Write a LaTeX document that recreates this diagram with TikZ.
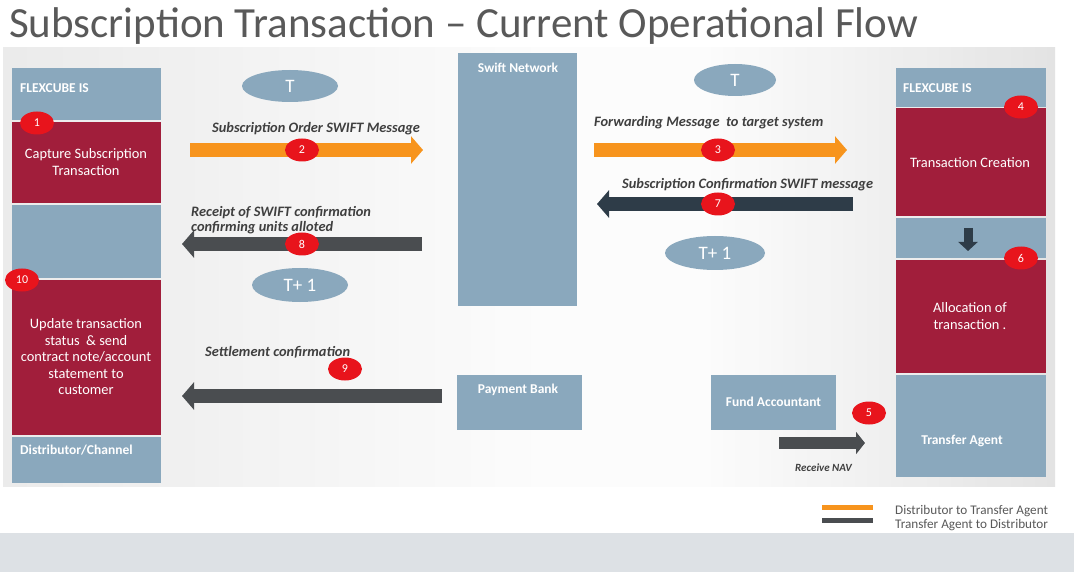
\documentclass[tikz,border=0pt]{standalone}
\usepackage{fontspec}
\setmainfont{Carlito}
\usetikzlibrary{arrows.meta,shapes.geometric}
\definecolor{boxblue}{HTML}{8AA8BD}
\definecolor{boxred}{HTML}{A11E3B}
\definecolor{badgered}{HTML}{E8141C}
\definecolor{arrorange}{HTML}{F7941D}
\definecolor{arrgrey}{HTML}{4A4D50}
\definecolor{arrslate}{HTML}{2E3C48}
\definecolor{labgrey}{HTML}{3F3F3F}
\definecolor{titlegrey}{HTML}{595959}
\definecolor{stripgrey}{HTML}{DDE1E5}
\tikzset{
  box/.style={draw=none, inner sep=0pt, outer sep=0pt, anchor=north west},
  bluebox/.style={box, fill=boxblue},
  redbox/.style={box, fill=boxred},
  boxlbl/.style={text=white, font=\fontsize{13.5}{15}\selectfont\bfseries, inner sep=0pt},
  boxtxt/.style={text=white, font=\fontsize{14.4}{16.5}\selectfont, align=center, inner sep=0pt},
  badge/.style={ellipse, fill=badgered, text=white, minimum width=34pt, minimum height=23pt, inner sep=0pt, font=\fontsize{12}{12}\selectfont},
  tbubble/.style={ellipse, fill=boxblue, text=white, inner sep=0pt, font=\fontsize{19}{20}\selectfont},
  msg/.style={text=labgrey, font=\fontsize{14.4}{15.5}\selectfont\bfseries\itshape, inner sep=0pt, align=left},
  bigarrow/.style={line width=14pt, -{Triangle[length=12pt,width=27pt]}},
  legtxt/.style={anchor=west, inner sep=0pt, text=titlegrey, font=\fontsize{13.2}{14}\selectfont},
}
\begin{document}
\begin{tikzpicture}[x=1pt,y=-1pt]
\useasboundingbox (0,0) rectangle (1074,572);
\fill[white] (0,0) rectangle (1074,572);
% background panel (horizontal gradient built from strips)
\begin{scope}
\clip (3,47) rectangle (1055,487);
\foreach \i in {0,...,87}{
  \pgfmathsetmacro\xx{3+12*\i+6}
  \pgfmathsetmacro\pp{\xx<560 ? 8-7*(\xx-3)/557 : (\xx<700 ? 1 : 1+10*(\xx-700)/355)}
  \fill[black!\pp] ({3+12*\i},47) rectangle ({3+12*\i+12.6},487);
}
\end{scope}
\fill[stripgrey] (0,533) rectangle (1074,572);
% title
\node[anchor=base west, inner sep=0pt, text=titlegrey, font=\fontsize{43}{46}\selectfont] (title) at (9,38) {Subscription Transaction – Current Operational Flow};

% left column
\node[bluebox, minimum width=149pt, minimum height=52pt] (lflex) at (12,68) {};
\node[redbox, minimum width=149pt, minimum height=81pt] (lcap) at (12,122) {};
\node[bluebox, minimum width=149pt, minimum height=73pt] (lmid) at (12,205) {};
\node[redbox, minimum width=149pt, minimum height=155pt] (lupd) at (12,280) {};
\node[bluebox, minimum width=149pt, minimum height=46pt] (ldist) at (12,437) {};
\node[boxlbl, anchor=west] at (20,88) {FLEXCUBE IS};
\node[boxtxt] at (86,162) {Capture Subscription\\Transaction};
\node[boxtxt] at (86,357) {Update transaction\\status\ \ \& send\\contract note/account\\statement to\\customer};
\node[boxlbl, anchor=west] at (20,450) {Distributor/Channel};
\node[badge] (b1) at (37,123) {1};
\node[badge] (b10) at (22,280) {10};

% middle column
\node[bluebox, minimum width=119pt, minimum height=253pt] (swift) at (458,53) {};
\node[boxlbl] at (518,68) {Swift Network};
\node[bluebox, minimum width=125pt, minimum height=55pt] (pay) at (457,375) {};
\node[boxlbl] at (518,390) {Payment Bank};
\node[bluebox, minimum width=125pt, minimum height=55pt] (fund) at (711,375) {};
\node[boxlbl] at (773.5,402) {Fund Accountant};

% right column
\node[bluebox, minimum width=150pt, minimum height=39pt] (rflex) at (896,68) {};
\node[redbox, minimum width=150pt, minimum height=108pt] (rcre) at (896,108) {};
\node[bluebox, minimum width=150pt, minimum height=40pt] (rmid) at (896,218) {};
\node[redbox, minimum width=150pt, minimum height=113pt] (ralloc) at (896,260) {};
\node[bluebox, minimum width=150pt, minimum height=102pt] (rta) at (896,375) {};
\node[boxlbl, anchor=west] at (903,88) {FLEXCUBE IS};
\node[boxtxt] at (970,163) {Transaction Creation};
\node[boxtxt] at (970,316) {Allocation of\\transaction .};
\node[boxlbl] at (962,441) {Transfer Agent};
\coordinate (dA) at (968,228);
\coordinate (dB) at (968,251);
\draw[arrslate, line width=9pt, -{Triangle[length=9pt,width=19pt]}] (dA) -- (dB);

% time bubbles
\node[tbubble, minimum width=96pt, minimum height=32pt] (t1) at (290,86) {T};
\node[tbubble, minimum width=82pt, minimum height=32pt] (t2) at (735,80) {T};
\node[tbubble, minimum width=96pt, minimum height=34pt] (t3) at (300,285) {T+ 1};
\node[tbubble, minimum width=100pt, minimum height=34pt] (t4) at (715,253) {T+ 1};

% arrows
\coordinate (a2s) at (190,150); \coordinate (a2e) at (423,150);
\draw[bigarrow, arrorange] (a2s) -- (a2e);
\coordinate (a3s) at (594,150); \coordinate (a3e) at (847,150);
\draw[bigarrow, arrorange] (a3s) -- (a3e);
\coordinate (a7s) at (853,204); \coordinate (a7e) at (597,204);
\draw[bigarrow, arrslate] (a7s) -- (a7e);
\coordinate (a8s) at (422,244); \coordinate (a8e) at (182,244);
\draw[bigarrow, arrgrey] (a8s) -- (a8e);
\coordinate (a9s) at (442,396); \coordinate (a9e) at (182,396);
\draw[bigarrow, arrgrey] (a9s) -- (a9e);
\coordinate (a5s) at (779,443); \coordinate (a5e) at (865,443);
\draw[arrgrey, line width=12pt, -{Triangle[length=9pt,width=22pt]}] (a5s) -- (a5e);

% messages
\node[msg, anchor=west] at (212,129) {Subscription Order SWIFT Message};
\node[msg, anchor=west] at (594,123) {Forwarding Message\ \ to target system};
\node[msg, anchor=west] at (622,185) {Subscription Confirmation SWIFT message};
\node[msg, anchor=west] at (191,220) {Receipt of SWIFT confirmation\\confirming units alloted};
\node[msg, anchor=west] at (205,352) {Settlement confirmation};
\node[msg, anchor=west, font=\fontsize{11}{12}\selectfont\bfseries\itshape] at (795,468) {Receive NAV};

% badges on arrows
\node[badge] (b2) at (302,150) {2};
\node[badge] (b3) at (718,150) {3};
\node[badge] (b7) at (718,204) {7};
\node[badge] (b8) at (302,244) {8};
\node[badge] (b9) at (345,369) {9};
\node[badge] (b4) at (1021,107) {4};
\node[badge] (b6) at (1021,258) {6};
\node[badge] (b5) at (869,413) {5};

% legend
\coordinate (l1s) at (822,507); \coordinate (l1e) at (873,507);
\coordinate (l2s) at (822,520); \coordinate (l2e) at (873,520);
\draw[arrorange, line width=5pt] (l1s) -- (l1e);
\draw[arrgrey, line width=5pt] (l2s) -- (l2e);
\node[legtxt] at (895,511) {Distributor to Transfer Agent};
\node[legtxt] at (895,525) {Transfer Agent to Distributor};
\end{tikzpicture}
\end{document}
